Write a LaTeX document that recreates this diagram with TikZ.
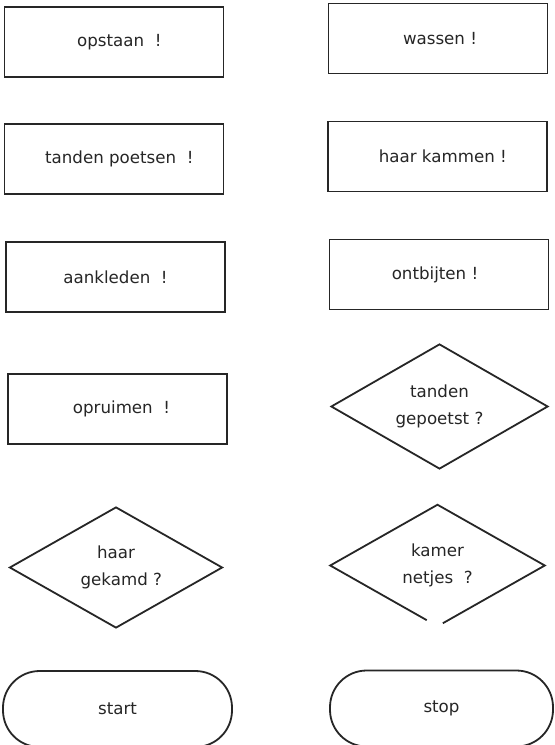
\documentclass[tikz,border=0pt]{standalone}
\usepackage{fontspec}
\setmainfont{DejaVu Sans}
\usetikzlibrary{shapes.geometric,calc}
\tikzset{
  ln/.style={line width=1.35pt, black!85},
  stepbox/.style={ln, draw, rectangle, minimum width={219*0.75pt}, minimum height={70*0.75pt}, inner sep=0pt},
  choice/.style={diamond, aspect=1.7, inner sep=0pt, minimum width={215*0.75pt}, minimum height={122*0.75pt}, align=center},
  term/.style={ln, draw, rectangle, rounded corners={27.5pt}, minimum height={76*0.75pt}, inner sep=0pt},
  txt/.style={font=\fontsize{12.5}{20.5}\selectfont, text=black!85}
}
\begin{document}
\begin{tikzpicture}[x=0.75pt,y=-0.75pt]
\useasboundingbox[fill=white] (0,0) rectangle (554,745);
\node[stepbox, txt] (opstaan) at (114,42) {\hspace*{8pt}opstaan\ \ !};
\node[stepbox, txt] (wassen) at (438,38.5) {\hspace*{3pt}wassen !};
\node[stepbox, txt] (tanden) at (114,159) {\hspace*{8pt}tanden poetsen\ \ !};
\node[stepbox, txt] (haar) at (437.5,156.5) {\hspace*{8pt}haar kammen !};
\node[stepbox, txt] (aankleden) at (115.5,277) {aankleden\ \ !};
\node[stepbox, txt] (ontbijten) at (439,274.5) {ontbijten !\hspace*{6pt}};
\node[stepbox, txt] (opruimen) at (117.5,409) {\hspace*{6pt}opruimen\ \ !};
\node[choice, ln, draw, txt, minimum width={217*0.75pt}, minimum height={125*0.75pt}] (gepoetst) at (439.5,406.5) {tanden\\gepoetst ?};
\node[choice, ln, draw, txt, minimum width={213*0.75pt}, minimum height={121*0.75pt}] (gekamd) at (116,567.5) {haar\\\hspace*{8pt}gekamd ?};
\node[choice, txt, minimum width={214*0.75pt}, minimum height={121*0.75pt}] (netjes) at (437.5,565.5) {kamer\\netjes\ \ ?};
\draw[ln, line join=miter] ($(netjes.west)!0.9!(netjes.south)$) -- (netjes.west) -- (netjes.north) -- (netjes.east) -- ($(netjes.east)!0.95!(netjes.south)$);
\node[term, txt, minimum width={229*0.75pt}] (start) at (117.5,709) {start};
\node[term, txt, minimum width={223*0.75pt}] (stop) at (441.5,708.5) {stop};
\end{tikzpicture}
\end{document}
